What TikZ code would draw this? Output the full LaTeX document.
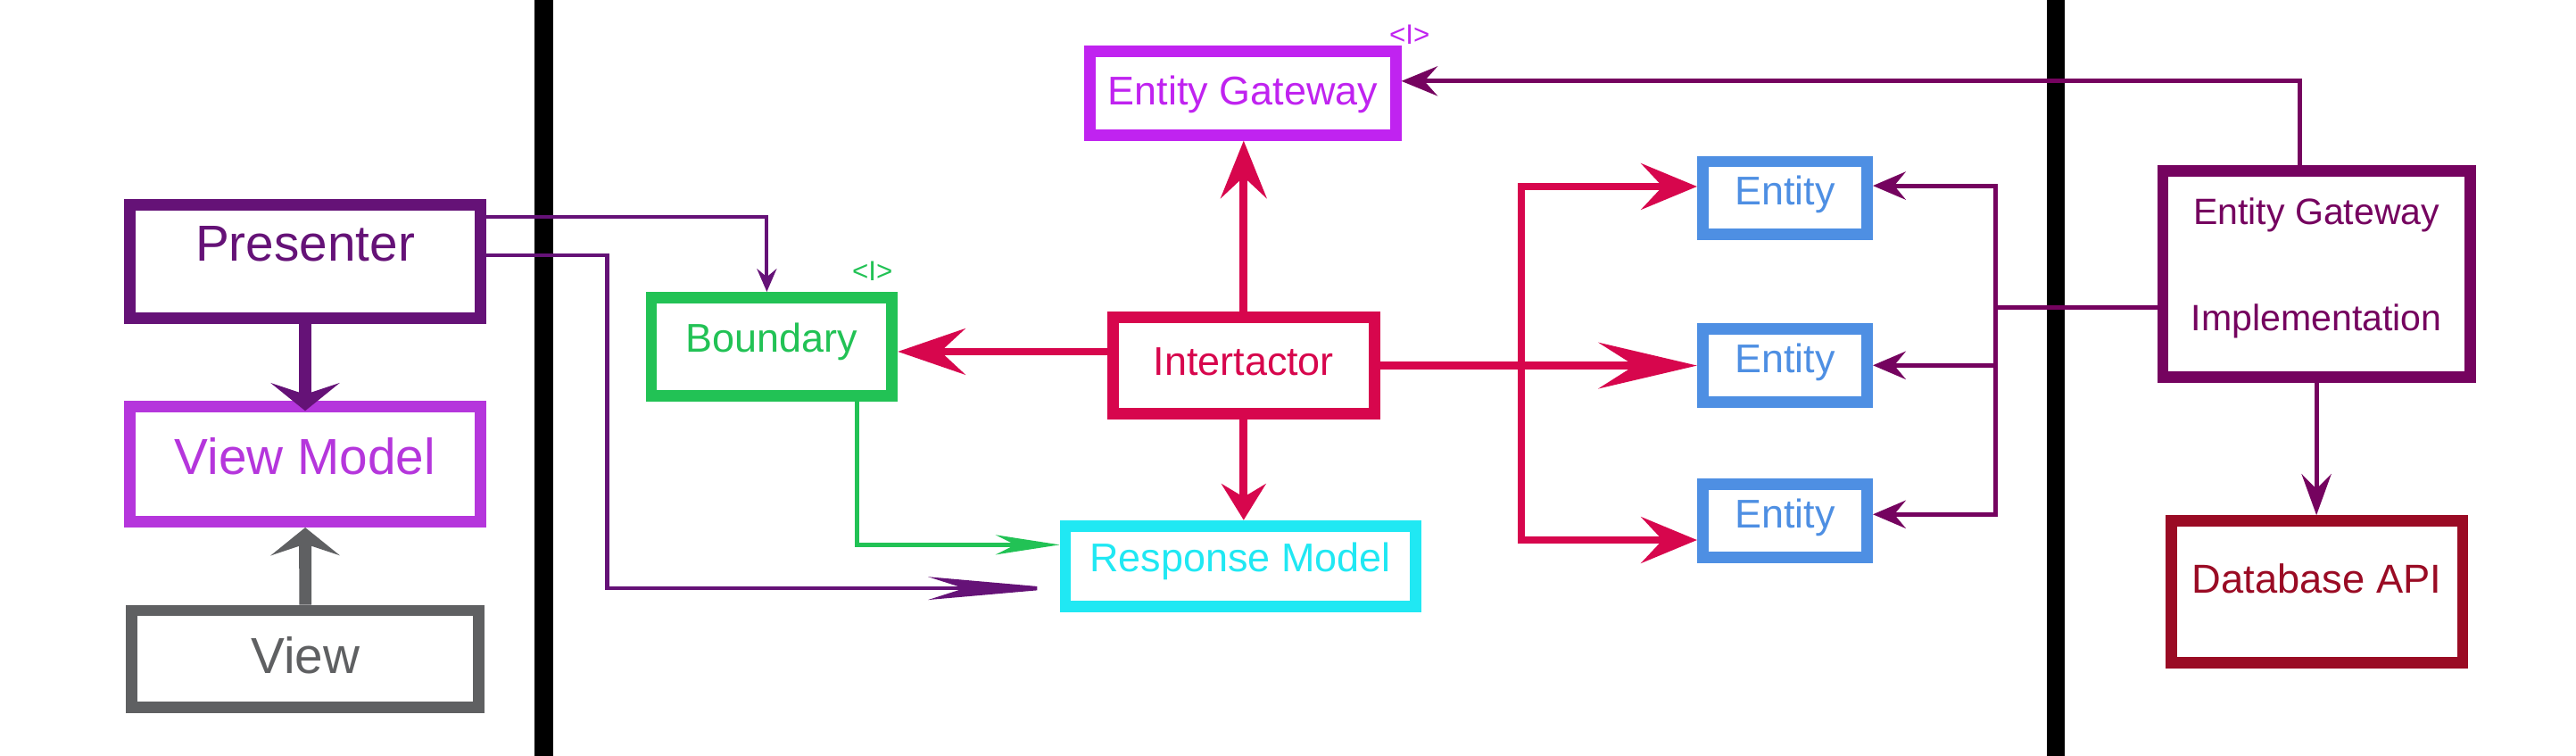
\documentclass[tikz,border=0pt]{standalone}
\usepackage{fontspec}
\setmainfont{Liberation Sans}
\usetikzlibrary{arrows.meta}

\definecolor{prescol}{RGB}{101,18,119}
\definecolor{vmcol}{RGB}{181,54,220}
\definecolor{viewcol}{RGB}{95,96,98}
\definecolor{bndcol}{RGB}{34,194,85}
\definecolor{egcol}{RGB}{192,35,240}
\definecolor{intcol}{RGB}{215,6,77}
\definecolor{rmcol}{RGB}{32,232,243}
\definecolor{entcol}{RGB}{78,143,227}
\definecolor{egicol}{RGB}{117,3,95}
\definecolor{dbcol}{RGB}{154,11,36}

\tikzset{
  box/.style={draw, rectangle, line width=7pt, inner sep=0pt, fill=white},
  bigtext/.style={font=\fontsize{30.8}{36}\selectfont, text height=22pt},
  midtext/.style={font=\fontsize{24.4}{29}\selectfont, text height=17.5pt},
  tagtext/.style={font=\fontsize{17}{20}\selectfont, inner sep=0pt},
  entbox/.style={box, midtext, draw=entcol, text=entcol, minimum width=100pt, minimum height=44.4pt, text depth=9pt},
  thickarrow/.style={line width=7.5pt, -{Stealth[length=17pt,width=42pt,inset=7pt]}},
  redline/.style={line width=4.7pt, intcol},
  egiline/.style={line width=2.7pt, egicol},
  egiarrow/.style={egiline, -{Stealth[length=20pt,width=17pt,inset=7pt]}}
}

\begin{document}
\begin{tikzpicture}[x=1pt, y=-1pt, >=Stealth]
  \useasboundingbox (0,0) rectangle (1568,460);

  % layer borders
  \draw[line width=11pt] (331,0) -- (331,460);
  \draw[line width=11pt] (1251.5,0) -- (1251.5,460);

  % left column
  \node[box, bigtext, draw=prescol, text=prescol, minimum width=213.5pt, minimum height=69pt, text depth=22pt] (pres) at (185.75,159) {Presenter};
  \node[box, bigtext, draw=vmcol, text=vmcol, minimum width=213.5pt, minimum height=70pt, text depth=10pt] (vm) at (185.75,282.5) {View Model};
  \node[box, bigtext, draw=viewcol, text=viewcol, minimum width=211.3pt, minimum height=59pt, text depth=4pt] (view) at (185.9,401) {View};

  % use cases
  \node[box, midtext, draw=bndcol, text=bndcol, minimum width=146.5pt, minimum height=59.9pt, text depth=11pt] (bound) at (469.75,211) {Boundary};
  \node[tagtext, text=bndcol] (bndtag) at (531,165) {<I>};
  \node[box, midtext, draw=egcol, text=egcol, minimum width=186pt, minimum height=50.9pt, text depth=3pt] (eg) at (756.5,56.65) {Entity Gateway};
  \node[tagtext, text=egcol] (egtag) at (858,21) {<I>};
  \node[box, midtext, draw=intcol, text=intcol, minimum width=159pt, minimum height=58.7pt, text depth=6pt] (inter) at (757,222.45) {Intertactor};
  \node[box, midtext, draw=rmcol, text=rmcol, minimum width=213pt, minimum height=49.1pt, text depth=11pt] (rm) at (755,344.5) {Response Model};

  % entities
  \node[entbox] (e1) at (1086.5,120.5) {Entity};
  \node[entbox] (e2) at (1086.5,222.3) {Entity};
  \node[entbox] (e3) at (1086.5,317) {Entity};

  % right column
  \node[box, draw=egicol, text=egicol, font=\fontsize{22.3}{64.5}\selectfont, align=center, minimum width=187pt, minimum height=125.5pt] (egi) at (1410,166.75) {Entity Gateway\\Implementation\rule[-12pt]{0pt}{1pt}};
  \node[box, font=\fontsize{24.6}{29}\selectfont, text height=17.6pt, text depth=16pt, draw=dbcol, text=dbcol, minimum width=177.5pt, minimum height=86.5pt] (db) at (1410.25,360.25) {Database API};

  % presenter
  \draw[thickarrow, prescol, shorten >=-6pt] (pres) -- (vm);
  \draw[thickarrow, viewcol] (view) -- (vm);
  \coordinate (presA) at ([yshift=27pt]pres.east);
  \coordinate (presB) at ([yshift=3.6pt]pres.east);
  \coordinate (presbus) at (369.5,0);
  \draw[line width=2.2pt, prescol, -{Stealth[length=14pt,width=12pt,inset=5pt]}] (presA) -| ([xshift=-3pt]bound.north);
  \draw[line width=2.4pt, prescol, -{Stealth[length=80pt,width=14pt,inset=22pt]}] (presB) -- (presB -| presbus) |- ([yshift=-13.5pt]rm.west);

  % boundary
  \draw[line width=2.4pt, bndcol, -{Stealth[length=39pt,width=12pt,inset=12pt]}] ([xshift=52pt]bound.south) |- ([yshift=13pt]rm.west);

  % interactor
  \coordinate (intleft) at ([yshift=8.5pt]inter.west);
  \coordinate (redbus) at (926,0);
  \draw[redline, -{Stealth[length=35pt,width=28pt,inset=13pt]}] (inter.north) -- (inter.north |- eg.south);
  \draw[redline, -{Stealth[length=41pt,width=28pt,inset=15pt]}] (intleft) -- (intleft -| bound.east);
  \draw[redline, -{Stealth[length=22pt,width=27pt,inset=8pt]}] (inter.south) -- (inter.south |- rm.north);
  \draw[redline, -{Stealth[length=60pt,width=28pt,inset=22pt]}] (inter.east) -- (inter.east -| e2.west);
  \draw[redline, -{Stealth[length=34pt,width=28pt,inset=13pt]}] (inter.east -| redbus) |- ([yshift=7pt]e1.west);
  \draw[redline, -{Stealth[length=34pt,width=28pt,inset=13pt]}] (inter.east -| redbus) |- ([yshift=-11.6pt]e3.west);

  % gateway implementation
  \coordinate (egiL) at ([yshift=-20.6pt]egi.west);
  \coordinate (egibus) at (1214.6,0);
  \draw[egiline] (egiL) -- (egiL -| egibus);
  \draw[egiarrow] (egiL -| egibus) |- ([yshift=7.5pt]e1.east);
  \draw[egiarrow] (egiL -| egibus) |- (e2.east);
  \draw[egiarrow] (egiL -| egibus) |- ([yshift=4pt]e3.east);
  \draw[egiline, -{Stealth[length=22pt,width=18pt,inset=8pt]}] ([xshift=-10pt]egi.north) |- ([yshift=7.3pt]eg.east);
  \draw[egiline, -{Stealth[length=25pt,width=18pt,inset=9pt]}] (egi.south) -- (egi.south |- db.north);
\end{tikzpicture}
\end{document}
